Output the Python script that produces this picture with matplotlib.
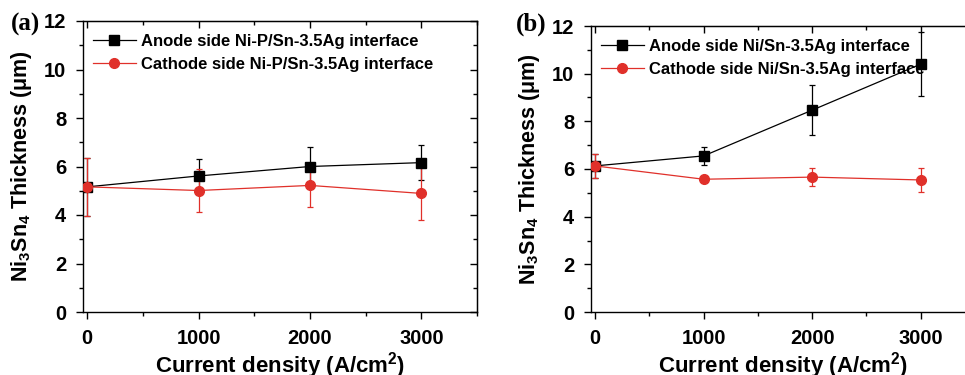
import matplotlib
matplotlib.use("Agg")
import matplotlib.pyplot as plt
from matplotlib.ticker import MultipleLocator

plt.rcParams["font.family"] = ["Liberation Sans", "DejaVu Sans"]
plt.rcParams["font.weight"] = "bold"
plt.rcParams["mathtext.fontset"] = "custom"
plt.rcParams["mathtext.rm"] = "Liberation Sans:bold"
plt.rcParams["mathtext.bf"] = "Liberation Sans:bold"
plt.rcParams["mathtext.default"] = "rm"

# ==========================
# Data
# ==========================
current = [0, 1000, 2000, 3000]

# panel (a) Ni-P/Sn-3.5Ag
a_anode = [5.16, 5.61, 6.00, 6.16]
a_anode_err = [1.20, 0.71, 0.81, 0.71]
a_cathode = [5.16, 5.01, 5.22, 4.89]
a_cathode_err = [1.20, 0.90, 0.91, 1.11]

# panel (b) Ni/Sn-3.5Ag
b_anode = [6.13, 6.55, 8.47, 10.40]
b_anode_err = [0.50, 0.39, 1.06, 1.34]
b_cathode = [6.13, 5.57, 5.66, 5.54]
b_cathode_err = [0.50, 0.08, 0.39, 0.49]

labels_a = ["Anode side Ni-P/Sn-3.5Ag interface",
            "Cathode side Ni-P/Sn-3.5Ag interface"]
labels_b = ["Anode side Ni/Sn-3.5Ag interface",
            "Cathode side Ni/Sn-3.5Ag interface"]

RED = "#e0302a"

fig = plt.figure(figsize=(9.65, 3.75), dpi=100)
W, H = 965, 375


def make_axes(left, right, bottom, top):
    return fig.add_axes([left / W, 1 - bottom / H,
                         (right - left) / W, (bottom - top) / H])


def draw_panel(ax, anode, anode_err, cathode, cathode_err, labels, tag, tag_x):

    eb1 = ax.errorbar(current, anode, yerr=anode_err, color="black", lw=0.9,
                      marker="s", ms=6.5, capsize=2.5, elinewidth=0.9,
                      capthick=0.9, zorder=3)
    eb2 = ax.errorbar(current, cathode, yerr=cathode_err, color=RED, lw=0.9,
                      marker="o", ms=7, capsize=2.5, elinewidth=0.9,
                      capthick=0.9, zorder=3)

    ax.set_xlim(-38, 3500)
    ax.set_ylim(0, 12)
    ax.xaxis.set_major_locator(MultipleLocator(1000))
    ax.xaxis.set_minor_locator(MultipleLocator(500))
    ax.yaxis.set_major_locator(MultipleLocator(2))
    ax.yaxis.set_minor_locator(MultipleLocator(1))
    ax.tick_params(which="both", direction="out", width=1.0,
                   labelsize=14.5, top=False, right=False)
    ax.tick_params(which="major", length=5, pad=7)
    ax.tick_params(which="minor", length=3)
    for s in ax.spines.values():
        s.set_linewidth(1.0)

    # mirrored ticks pointing inward
    top = ax.secondary_xaxis("top")
    top.xaxis.set_major_locator(MultipleLocator(1000))
    top.xaxis.set_minor_locator(MultipleLocator(500))
    top.tick_params(which="both", direction="in", labeltop=False, width=1.0)
    top.tick_params(which="major", length=5)
    top.tick_params(which="minor", length=3)
    right = ax.secondary_yaxis("right")
    right.yaxis.set_major_locator(MultipleLocator(2))
    right.yaxis.set_minor_locator(MultipleLocator(1))
    right.tick_params(which="both", direction="in", labelright=False, width=1.0)
    right.tick_params(which="major", length=5)
    right.tick_params(which="minor", length=3)

    ax.set_xlabel("Current density (A/cm$^2$)", fontsize=16,
                  fontweight="bold", labelpad=2)
    ax.set_ylabel("Ni$_3$Sn$_4$ Thickness ($\\mu$m)", fontsize=15.5,
                  fontweight="bold", labelpad=7)

    ax.legend([eb1.lines[0], eb2.lines[0]], labels,
              loc="upper left", bbox_to_anchor=(-0.005, 0.995), frameon=False,
              handlelength=2.6, handletextpad=0.3,
              borderaxespad=0.0, borderpad=0.7, labelspacing=0.45,
              prop={"weight": "bold", "size": 12})

    fig.text(tag_x / W, 1 - 24 / H, tag, family="Liberation Serif",
             fontweight="bold", fontsize=18, va="center", ha="left")


ax_a = make_axes(83, 477, 312, 21)
draw_panel(ax_a, a_anode, a_anode_err, a_cathode, a_cathode_err,
           labels_a, "(a)", 11)

ax_b = make_axes(591, 975, 312, 26)
draw_panel(ax_b, b_anode, b_anode_err, b_cathode, b_cathode_err,
           labels_b, "(b)", 516)

fig.savefig("out.png", dpi=100)
